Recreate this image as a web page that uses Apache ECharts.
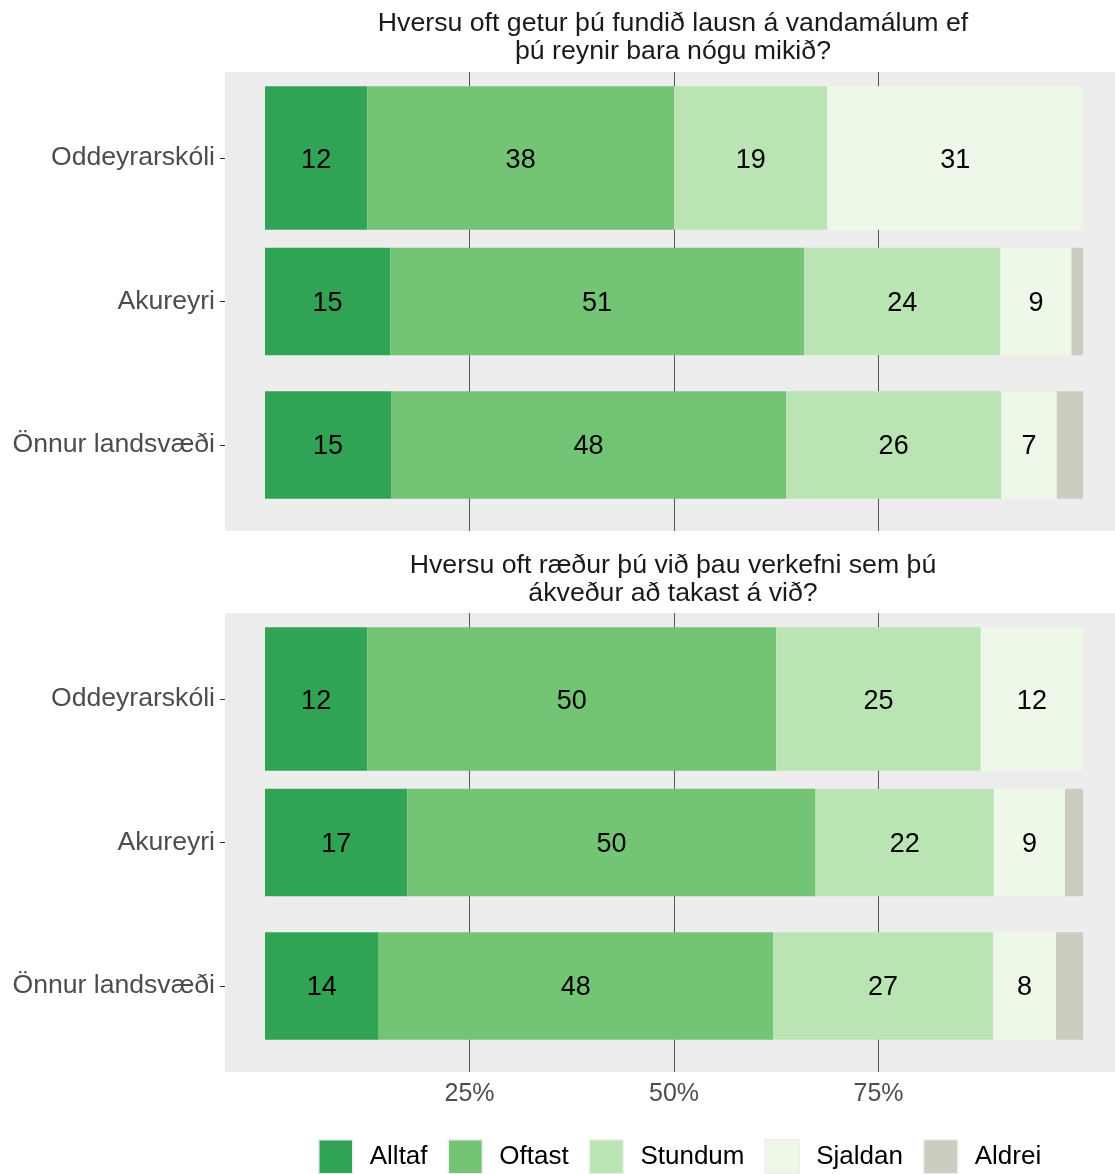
<!DOCTYPE html>
<html><head><meta charset="utf-8">
<script src="https://cdn.jsdelivr.net/npm/echarts@6/dist/echarts.min.js"></script>
<style>html,body{margin:0;padding:0;background:#fff}#c{width:1115px;height:1174px}</style>
</head><body><div id="c"></div>
<script>
// ---- data ----
const categories = ['Oddeyrarskóli', 'Akureyri', 'Önnur landsvæði'];
const levels = ['Alltaf', 'Oftast', 'Stundum', 'Sjaldan', 'Aldrei'];
const colors = ['#31A354', '#74C476', '#BAE4B3', '#EDF8E9', '#CCCCC0'];
const title1 = 'Hversu oft getur þú fundið lausn á vandamálum ef\nþú reynir bara nógu mikið?';
const title2 = 'Hversu oft ræður þú við þau verkefni sem þú\nákveður að takast á við?';
const xTickLabels = ['25%', '50%', '75%'];

// Question 1 (percent per category)
const q1Alltaf  = [12.5, 15.3, 15.4];
const q1Oftast  = [37.5, 50.6, 48.3];
const q1Stundum = [18.75, 24.0, 26.3];
const q1Sjaldan = [31.25, 8.7, 6.8];
const q1Aldrei  = [0, 1.4, 3.2];
// Question 2
const q2Alltaf  = [12.5, 17.4, 13.9];
const q2Oftast  = [50, 49.9, 48.2];
const q2Stundum = [25, 21.8, 26.9];
const q2Sjaldan = [12.5, 8.7, 7.7];
const q2Aldrei  = [0, 2.2, 3.3];

const panels = [
  [q1Alltaf, q1Oftast, q1Stundum, q1Sjaldan, q1Aldrei],
  [q2Alltaf, q2Oftast, q2Stundum, q2Sjaldan, q2Aldrei]
];

// ---- layout ----
const FONT = 'Liberation Sans, Arial, sans-serif';
const plotLeft = 265, plotWidth = 818;
const panelLeft = 225, panelWidth = 890;
const pxPerUnit = plotWidth / 100;
const dataMin = -(plotLeft - panelLeft) / pxPerUnit;
const dataMax = 100 + (panelLeft + panelWidth - plotLeft - plotWidth) / pxPerUnit;
const panelTops = [72, 613], panelH = 459;
const band = panelH / 3.2, inset = band * 0.1;

function roundHalfEven(v) {
  const f = Math.floor(v), d = v - f;
  if (Math.abs(d - 0.5) < 1e-9) return (f % 2 === 0) ? f : f + 1;
  return Math.round(v);
}

const grid = [], xAxis = [], yAxis = [], series = [];
panels.forEach((pdata, p) => {
  const top = panelTops[p];
  // background grid (gridlines)
  grid.push({ left: plotLeft, width: plotWidth, top: top, height: panelH });
  // data grid (spans the full panel width, inset vertically)
  grid.push({ left: panelLeft, width: panelWidth, top: top + inset, height: panelH - 2 * inset });
  const gBg = p * 2, gData = p * 2 + 1;
  xAxis.push({
    gridIndex: gBg, type: 'value', min: 0, max: 100, interval: 25,
    axisLine: { show: false }, axisTick: { show: false },
    splitLine: { show: true, showMinLine: false, showMaxLine: false,
      lineStyle: { color: '#555555', width: 1 } },
    axisLabel: {
      show: p === 1, margin: 10, fontSize: 25, color: '#4D4D4D', fontFamily: FONT,
      formatter: v => (v === 25 ? xTickLabels[0] : v === 50 ? xTickLabels[1] : v === 75 ? xTickLabels[2] : '')
    }
  });
  xAxis.push({
    gridIndex: gData, type: 'value', min: dataMin, max: dataMax, show: false,
    splitLine: { show: false }
  });
  yAxis.push({ gridIndex: gBg, type: 'value', min: 0, max: 1, show: false, splitLine: { show: false } });
  yAxis.push({
    gridIndex: gData, type: 'category', data: categories, inverse: true,
    position: 'left',
    axisLine: { show: false, onZero: false },
    axisTick: { show: true, alignWithLabel: true, length: 5, lineStyle: { color: '#333333', width: 1 } },
    axisLabel: { fontSize: 26.6, color: '#4D4D4D', margin: 10, fontFamily: FONT, padding: [4, 0, 0, 0] },
    splitLine: { show: false }
  });
  yAxis.push({
    gridIndex: gData, type: 'category', data: categories, inverse: true,
    position: 'right', show: false, axisLine: { onZero: false }, splitLine: { show: false }
  });
  const yVis = p * 3 + 1, yHid = p * 3 + 2;
  const label = {
    show: true, position: 'inside', color: '#000', fontSize: 27, fontFamily: FONT, offset: [0, 2],
    formatter: prm => (prm.value === '-' || prm.value < 5) ? '' : String(roundHalfEven(prm.value))
  };
  levels.forEach((lv, i) => {
    const vals = pdata[i];
    series.push({
      type: 'bar', name: lv, xAxisIndex: gData, yAxisIndex: yVis, stack: 'p' + p + 'wide',
      barWidth: '100%', itemStyle: { color: colors[i] }, label: label,
      data: vals.map((v, k) => (k === 0 ? v : '-')), silent: true, animation: false
    });
    series.push({
      type: 'bar', name: lv, xAxisIndex: gData, yAxisIndex: yHid, stack: 'p' + p + 'narrow',
      barWidth: '75%', itemStyle: { color: colors[i] }, label: label,
      data: vals.map((v, k) => (k === 0 ? '-' : v)), silent: true, animation: false
    });
  });
});

const chart = echarts.init(document.getElementById('c'), null, { renderer: 'canvas' });
chart.setOption({
  animation: false,
  backgroundColor: '#ffffff',
  textStyle: { fontFamily: FONT },
  grid: grid, xAxis: xAxis, yAxis: yAxis, series: series,
  legend: {
    data: levels, left: 318, top: 1139, orient: 'horizontal', padding: 0,
    itemWidth: 34, itemHeight: 34, itemGap: 20, icon: 'rect', selectedMode: false,
    itemStyle: { borderColor: '#EEEEEE', borderWidth: 1.5 },
    textStyle: { fontSize: 26, color: '#000', fontFamily: FONT, padding: [2, 0, 0, 12] }
  },
  graphic: { elements: [
    { type: 'rect', z: -10, silent: true, shape: { x: panelLeft, y: panelTops[0], width: panelWidth, height: panelH }, style: { fill: '#EDEDED' } },
    { type: 'rect', z: -10, silent: true, shape: { x: panelLeft, y: panelTops[1], width: panelWidth, height: panelH }, style: { fill: '#EDEDED' } },
    { type: 'text', x: 673, y: 38, silent: true, style: { text: title1, font: '26.7px ' + FONT, fill: '#1A1A1A', align: 'center', verticalAlign: 'middle', textAlign: 'center', textVerticalAlign: 'middle', lineHeight: 28 } },
    { type: 'text', x: 673, y: 580, silent: true, style: { text: title2, font: '26.7px ' + FONT, fill: '#1A1A1A', align: 'center', verticalAlign: 'middle', textAlign: 'center', textVerticalAlign: 'middle', lineHeight: 28 } }
  ] }
});
</script>
</body></html>
